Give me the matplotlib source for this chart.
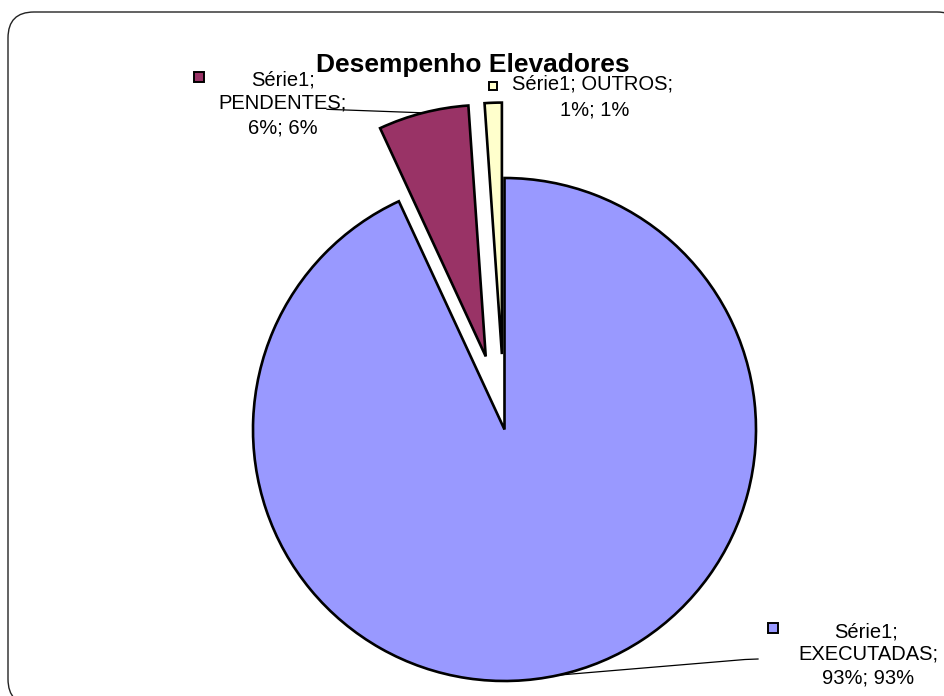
import numpy as np
import matplotlib
matplotlib.use("Agg")
import matplotlib.pyplot as plt
from matplotlib.patches import FancyBboxPatch

plt.rcParams['font.family'] = ['Liberation Sans', 'DejaVu Sans']

# ---- data ----
series_name = "Série1"
categories = ["EXECUTADAS", "PENDENTES", "OUTROS"]
values = [93.1, 5.8, 1.1]
colors = ["#9999FF", "#993366", "#FFFFCC"]
explode = [0.0, 0.30, 0.30]   # fraction of radius
title = "Desempenho Elevadores"

W, H = 944, 696
fig = plt.figure(figsize=(W / 100, H / 100), dpi=100)
ax = fig.add_axes([0, 0, 1, 1])

def Y(y):  # pixel-from-top -> data y
    return H - y

# frame with rounded corners
frame = FancyBboxPatch((8, Y(705)), 955, 693,
                       boxstyle="round,pad=0,rounding_size=26",
                       facecolor="white", edgecolor="#222222", linewidth=1.0,
                       zorder=0)
ax.add_patch(frame)

cx, cy, R = 504.5, Y(429.5), 251.5
wedges, _ = ax.pie(values, colors=colors, explode=[e * R for e in explode],
                   startangle=90, counterclock=False, center=(cx, cy), radius=R,
                   wedgeprops=dict(edgecolor="black", linewidth=1.9),
                   frame=True)
ax.set_xlim(0, W)
ax.set_ylim(0, H)
ax.set_aspect("equal")
ax.axis("off")

fs = 14.5
total = sum(values)
def pct(v):
    return f"{round(v / total * 100):d}%"
def lab_val(v):
    return f"{round(v):d}%"

def arc_mid(w):
    ang = np.deg2rad((w.theta1 + w.theta2) / 2)
    return (w.center[0] + w.r * np.cos(ang), w.center[1] + w.r * np.sin(ang))

# title
ax.text(473, Y(72), title, ha="center", va="baseline", fontsize=19,
        fontweight="bold")

# EXECUTADAS label
v = values[0]
ax.plot([773], [Y(627.5)], marker="s", markersize=6.5, markerfacecolor=colors[0],
        markeredgecolor="black", markeredgewidth=1.4, linestyle="none")
ax.text(866, Y(637), f"{series_name};", ha="center", va="baseline", fontsize=fs)
ax.text(868, Y(660), f"{categories[0]};", ha="center", va="baseline", fontsize=fs)
ax.text(868, Y(684), f"{lab_val(v)}; {pct(v)}", ha="center", va="baseline", fontsize=fs)
mx, my = arc_mid(wedges[0])
ax.plot([mx, 745, 758], [my, Y(659.5), Y(659)], color="black", linewidth=0.9)

# PENDENTES label
v = values[1]
ax.plot([198.5], [Y(77)], marker="s", markersize=6.5, markerfacecolor=colors[1],
        markeredgecolor="black", markeredgewidth=1.4, linestyle="none")
ax.text(283, Y(85), f"{series_name};", ha="center", va="baseline", fontsize=fs)
ax.text(282.5, Y(108.5), f"{categories[1]};", ha="center", va="baseline", fontsize=fs)
ax.text(282.5, Y(133), f"{lab_val(v)}; {pct(v)}", ha="center", va="baseline", fontsize=fs)
mx, my = arc_mid(wedges[1])
ax.plot([327, mx], [Y(109.3), my], color="black", linewidth=0.9)

# OUTROS label
v = values[2]
ax.plot([492.5], [Y(85.5)], marker="s", markersize=6.0, markerfacecolor=colors[2],
        markeredgecolor="black", markeredgewidth=1.4, linestyle="none")
ax.text(511.5, Y(90), f"{series_name}; {categories[2]};", ha="left", va="baseline",
        fontsize=fs)
ax.text(595, Y(115), f"{lab_val(v)}; {pct(v)}", ha="center", va="baseline", fontsize=fs)

fig.savefig("out.png", dpi=100)
